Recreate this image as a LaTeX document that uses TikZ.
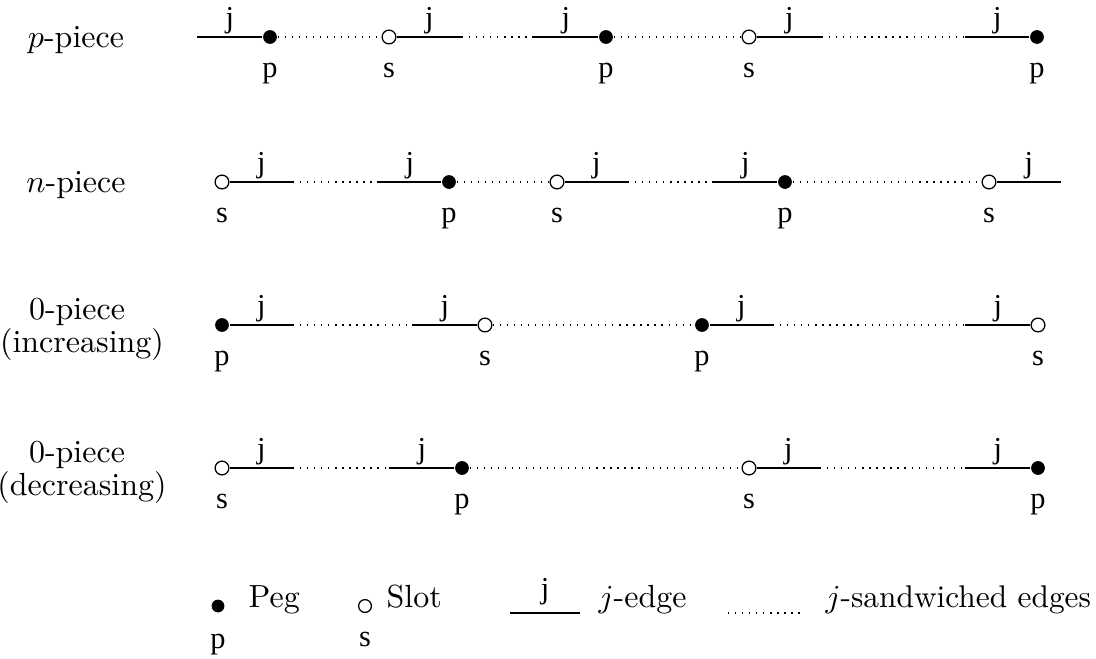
\documentclass[tikz,border=0pt]{standalone}
\usepackage{amsmath}
\usepackage{fontspec}
\newfontfamily\labfont{Liberation Serif}
\usepackage{tikz}

\begin{document}
\begin{tikzpicture}[x=0.3125pt,y=-0.3125pt,
    peg/.style={circle,fill,inner sep=0pt,minimum size=4.3pt},
    slot/.style={circle,draw,fill=white,line width=0.4pt,inner sep=0pt,minimum size=4.3pt},
    jedge/.style={line width=0.5pt},
    sandw/.style={line width=0.4pt,dash pattern=on 0.4pt off 1.8pt},
    jlab/.style={font=\labfont\fontsize{9.5}{10}\selectfont,anchor=base,yshift=3.1pt,inner sep=0pt},
    lab/.style={font=\labfont\fontsize{9.5}{10}\selectfont,anchor=base,inner sep=0pt},
    piece/.style={font=\fontsize{10}{12}\selectfont,anchor=base,inner sep=0pt}]
  \useasboundingbox (0,0) rectangle (1096,658);

  % row labels
  \node[piece] (tp)  at (76,47)   {$p$-piece};
  \node[piece] (tn)  at (76,192)  {$n$-piece};
  \node[piece] (ti1) at (77,319)  {0-piece};
  \node[piece] (ti2) at (82,352)  {(increasing)};
  \node[piece] (td1) at (77,462)  {0-piece};
  \node[piece] (td2) at (82,495)  {(decreasing)};

  % p-piece
  \coordinate (a0) at (197,37);
  \node[peg]  (a1) at (270,37) {};
  \node[slot] (a2) at (389,37) {};
  \coordinate (a3) at (462,37);
  \coordinate (a4) at (533,37);
  \node[peg]  (a5) at (606,37) {};
  \node[slot] (a6) at (749,37) {};
  \coordinate (a7) at (822,37);
  \coordinate (a8) at (965,37);
  \node[peg]  (a9) at (1037,37) {};
  \draw[jedge] (a0) -- node[jlab] {j} (a1);
  \draw[sandw] (a1) -- (a2);
  \draw[jedge] (a2) -- node[jlab] {j} (a3);
  \draw[sandw] (a3) -- (a4);
  \draw[jedge] (a4) -- node[jlab] {j} (a5);
  \draw[sandw] (a5) -- (a6);
  \draw[jedge] (a6) -- node[jlab] {j} (a7);
  \draw[sandw] (a7) -- (a8);
  \draw[jedge] (a8) -- node[jlab] {j} (a9);

  % n-piece
  \node[slot] (b0) at (222,182) {};
  \coordinate (b1) at (293,182);
  \coordinate (b2) at (378,182);
  \node[peg]  (b3) at (449,182) {};
  \node[slot] (b4) at (557,182) {};
  \coordinate (b5) at (628,182);
  \coordinate (b6) at (713,182);
  \node[peg]  (b7) at (785,182) {};
  \node[slot] (b8) at (989,182) {};
  \coordinate (b9) at (1061,182);
  \draw[jedge] (b0) -- node[jlab] {j} (b1);
  \draw[sandw] (b1) -- (b2);
  \draw[jedge] (b2) -- node[jlab] {j} (b3);
  \draw[sandw] (b3) -- (b4);
  \draw[jedge] (b4) -- node[jlab] {j} (b5);
  \draw[sandw] (b5) -- (b6);
  \draw[jedge] (b6) -- node[jlab] {j} (b7);
  \draw[sandw] (b7) -- (b8);
  \draw[jedge] (b8) -- node[jlab] {j} (b9);

  % 0-piece, increasing
  \node[peg]  (c0) at (222,325) {};
  \coordinate (c1) at (293,325);
  \coordinate (c2) at (412,325);
  \node[slot] (c3) at (485,325) {};
  \node[peg]  (c4) at (702,325) {};
  \coordinate (c5) at (773,325);
  \coordinate (c6) at (965,325);
  \node[slot] (c7) at (1038,325) {};
  \draw[jedge] (c0) -- node[jlab] {j} (c1);
  \draw[sandw] (c1) -- (c2);
  \draw[jedge] (c2) -- node[jlab] {j} (c3);
  \draw[sandw] (c3) -- (c4);
  \draw[jedge] (c4) -- node[jlab] {j} (c5);
  \draw[sandw] (c5) -- (c6);
  \draw[jedge] (c6) -- node[jlab] {j} (c7);

  % 0-piece, decreasing
  \node[slot] (d0) at (222,468) {};
  \coordinate (d1) at (293,468);
  \coordinate (d2) at (389,468);
  \node[peg]  (d3) at (462,468) {};
  \node[slot] (d4) at (749,468) {};
  \coordinate (d5) at (820,468);
  \coordinate (d6) at (965,468);
  \node[peg]  (d7) at (1038,468) {};
  \draw[jedge] (d0) -- node[jlab] {j} (d1);
  \draw[sandw] (d1) -- (d2);
  \draw[jedge] (d2) -- node[jlab] {j} (d3);
  \draw[sandw] (d3) -- (d4);
  \draw[jedge] (d4) -- node[jlab] {j} (d5);
  \draw[sandw] (d5) -- (d6);
  \draw[jedge] (d6) -- node[jlab] {j} (d7);

  % p and s under the pegs and slots
  \foreach \n/\t in {a1/p,a2/s,a5/p,a6/s,a9/p,b0/s,b3/p,b4/s,b7/p,b8/s,
                     c0/p,c3/s,c4/p,c7/s,d0/s,d3/p,d4/s,d7/p}
    \node[lab] (\n l) at ([yshift=-12.8pt]\n.center) {\t};

  % legend
  \node[peg,minimum size=4pt]  (lpeg)  at (218,606) {};
  \node[lab] (lpegl) at (218,648) {p};
  \node[piece,anchor=base west] (tpeg) at (248,607) {Peg};
  \node[slot,minimum size=4pt] (lslot) at (365,606) {};
  \node[lab] (lslotl) at (365,646) {s};
  \node[piece,anchor=base west] (tslot) at (386,607) {Slot};
  \coordinate (le0) at (510,613);
  \coordinate (le1) at (580,613);
  \draw[jedge] (le0) -- node[jlab,yshift=1.5pt] {j} (le1);
  \node[piece,anchor=base west] (tjedge) at (598,607) {$j$-edge};
  \coordinate (ld0) at (728,613);
  \coordinate (ld1) at (805,613);
  \draw[sandw] (ld0) -- (ld1);
  \node[piece,anchor=base west,font=\fontsize{9.8}{12}\selectfont] (tsand) at (825,607) {$j$-sandwiched edges};
\end{tikzpicture}
\end{document}
